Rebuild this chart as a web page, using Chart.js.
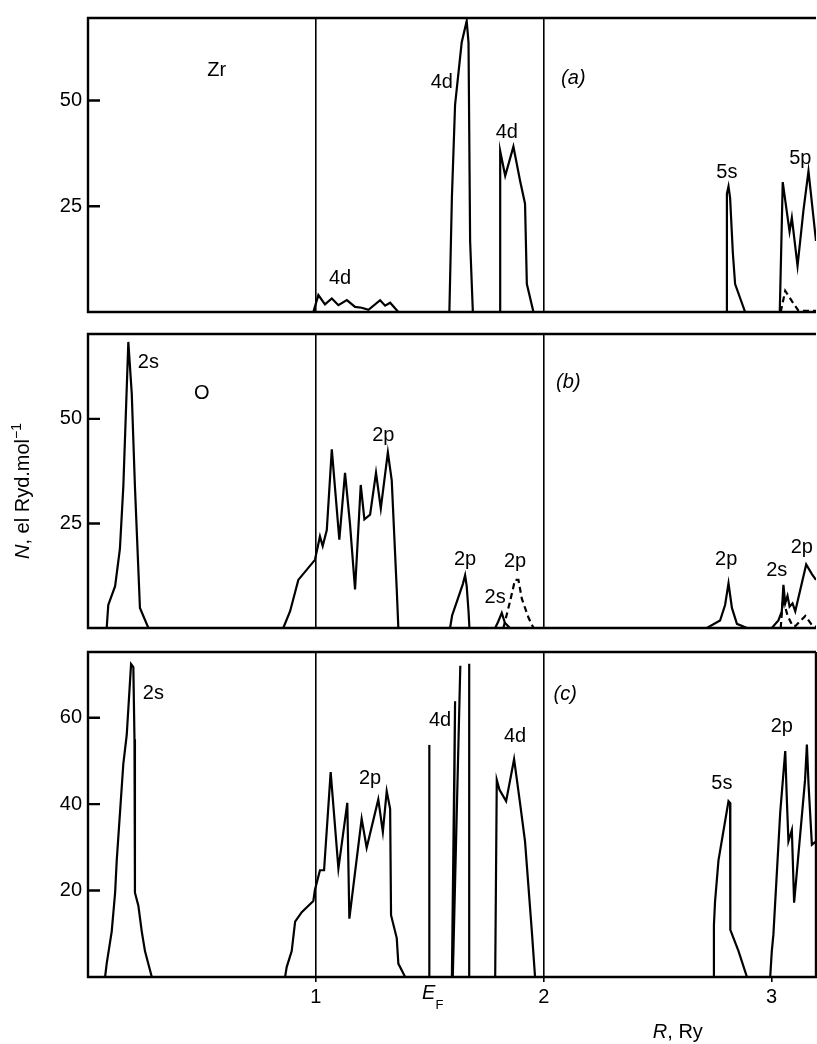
<!DOCTYPE html>
<html>
<head>
<meta charset="utf-8">
<script src="https://cdn.jsdelivr.net/npm/chart.js@4.4.1/dist/chart.umd.min.js"></script>
<style>
  html, body { margin: 0; padding: 0; background: #fff; }
  #wrap { position: relative; width: 817px; height: 1044px; overflow: hidden; }
  canvas { position: absolute; left: 0; }
</style>
</head>
<body>
<div id="wrap">
  <canvas id="pa" width="817" height="330" style="top:0px"></canvas>
  <canvas id="pb" width="817" height="330" style="top:316px"></canvas>
  <canvas id="pc" width="817" height="410" style="top:634px"></canvas>
</div>
<script>
// ---------- DATA ----------
const R_MAX = 3.195;
const xTicksTop = [1, 2];
const xTicksBottom = [1, 2, 3];
const aTicks = [25, 50];
const bTicks = [25, 50];
const cTicks = [20, 40, 60];

// (a) Zr
const a4dLowR = [0.989, 1.011, 1.040, 1.070, 1.099, 1.136, 1.172, 1.201, 1.231, 1.282, 1.304, 1.326, 1.362];
const a4dLowN = [0, 4.0, 1.8, 3.2, 1.6, 2.8, 1.2, 1.0, 0.5, 2.8, 1.5, 2.2, 0];
const a4dBigR = [1.586, 1.597, 1.611, 1.640, 1.662, 1.670, 1.677, 1.689];
const a4dBigN = [0, 27, 49, 63.7, 68.8, 63.7, 16.8, 0];
const a4dHighR = [1.809, 1.809, 1.831, 1.867, 1.896, 1.918, 1.926, 1.955];
const a4dHighN = [0, 38, 32.2, 39.1, 31.1, 25.6, 6.6, 0];
const a5sR = [2.801, 2.804, 2.811, 2.818, 2.830, 2.840, 2.884];
const a5sN = [0, 28, 29.7, 27, 14, 6.6, 0];
const a5pR = [3.036, 3.049, 3.079, 3.089, 3.114, 3.140, 3.162, 3.195];
const a5pN = [0, 30.7, 19, 22.3, 10.9, 24.1, 33.3, 16.8];
const a5pDashR = [3.04, 3.06, 3.09, 3.118, 3.195];
const a5pDashN = [0, 5, 2.5, 0.3, 0.3];

// (b) O
const b2sR = [0.082, 0.089, 0.119, 0.140, 0.155, 0.177, 0.192, 0.206, 0.228, 0.265];
const b2sN = [0, 5.5, 10, 18.9, 33.8, 68.4, 56.1, 33.8, 4.8, 0];
const b2pR = [0.857, 0.887, 0.923, 0.996, 1.018, 1.030, 1.048, 1.070, 1.103, 1.128, 1.150, 1.172, 1.197, 1.213, 1.238, 1.264, 1.285, 1.316, 1.333, 1.355, 1.362];
const b2pN = [0, 4, 11.5, 16.3, 21.9, 19.6, 23.4, 42.7, 21.1, 37.1, 24.8, 9.2, 34.2, 26, 27.1, 37.1, 28.6, 42, 35.3, 9.2, 0];
const b2pSmallR = [1.589, 1.598, 1.620, 1.645, 1.655, 1.662, 1.670, 1.674];
const b2pSmallN = [0, 3, 6.5, 10.5, 12.6, 10, 4, 0];
const b2sSmallR = [1.787, 1.800, 1.816, 1.830, 1.852];
const b2sSmallN = [0, 1.5, 3.6, 1.2, 0];
const b2pDashR = [1.823, 1.852, 1.874, 1.889, 1.904, 1.933, 1.955];
const b2pDashN = [0, 6.3, 11.5, 11.5, 7, 2.5, 0];
const b2pRightR = [2.716, 2.774, 2.796, 2.811, 2.826, 2.848, 2.892];
const b2pRightN = [0, 1.8, 5.5, 10.7, 4.8, 1, 0];
const b2s2pR = [3.001, 3.030, 3.045, 3.052, 3.060, 3.070, 3.079, 3.092, 3.104, 3.152, 3.177, 3.195];
const b2s2pN = [0, 1.8, 4, 10.3, 5.9, 7.7, 5.1, 5.9, 4, 15.2, 12.9, 11.5];
const bDashRightR = [3.04, 3.05, 3.07, 3.092, 3.105, 3.148, 3.18, 3.195];
const bDashRightN = [0, 7, 3, 0.5, 0.5, 2.9, 0.5, 0.3];

// (c) Zr + O
const c2sR = [0.075, 0.082, 0.104, 0.119, 0.126, 0.155, 0.170, 0.189, 0.199, 0.204, 0.206, 0.221, 0.236, 0.250, 0.280];
const c2sN = [0, 3.1, 10.5, 19.5, 26.9, 49.3, 56, 72.4, 71.7, 55, 19.5, 16.5, 10.5, 6, 0];
const c2pR = [0.865, 0.872, 0.894, 0.909, 0.938, 0.989, 0.996, 1.018, 1.036, 1.065, 1.099, 1.138, 1.147, 1.201, 1.223, 1.274, 1.294, 1.311, 1.326, 1.330, 1.355, 1.362, 1.392];
const c2pN = [0, 2.3, 6, 12.8, 15, 17.6, 20.2, 24.7, 24.7, 47.4, 25.1, 40.3, 13.5, 36.6, 29.9, 41.1, 33.6, 43, 38.9, 14.3, 9, 3.1, 0];
const cFermiR = [1.498, 1.498];
const cFermiN = [0, 53.7];
const c4dAR = [1.597, 1.611, 1.601, 1.634];
const c4dAN = [0, 63.8, 0, 72];
const c4dBR = [1.673, 1.673];
const c4dBN = [0, 72.5];
const c4d2R = [1.787, 1.794, 1.806, 1.835, 1.870, 1.896, 1.918, 1.948, 1.962];
const c4d2N = [0, 45.6, 43.3, 40.7, 50.4, 40.3, 31.4, 10.5, 0];
const c5sR = [2.743, 2.747, 2.752, 2.767, 2.811, 2.818, 2.819, 2.855, 2.892];
const c5sN = [0, 12, 17.5, 27, 40.7, 40.3, 10.9, 6, 0];
const c2pRightR = [2.994, 3.001, 3.008, 3.038, 3.045, 3.060, 3.067, 3.074, 3.089, 3.099, 3.147, 3.155, 3.162, 3.177, 3.195];
const c2pRightN = [0, 6, 9.8, 38.1, 42.6, 52.3, 41.1, 31.4, 34, 17.2, 45.6, 53.8, 44.8, 30.6, 31.4];

// annotations (text centre in data units)
const aLabelText = ["Zr", "4d", "4d", "4d", "(a)", "5s", "5p"];
const aLabelR = [0.565, 1.106, 1.553, 1.838, 2.13, 2.804, 3.126];
const aLabelN = [57.1, 8.0, 54.2, 42.4, 55.3, 32.9, 36.2];
const bLabelText = ["2s", "O", "2p", "2p", "2s", "2p", "(b)", "2p", "2s", "2p"];
const bLabelR = [0.265, 0.499, 1.296, 1.655, 1.787, 1.874, 2.108, 2.801, 3.023, 3.133];
const bLabelN = [63.5, 56.1, 46, 16.3, 7.4, 15.9, 58.7, 16.3, 13.7, 19.3];
const cLabelText = ["2s", "2p", "4d", "4d", "(c)", "5s", "2p"];
const cLabelR = [0.287, 1.238, 1.545, 1.874, 2.094, 2.782, 3.045];
const cLabelN = [65.7, 45.9, 59.4, 55.6, 65.3, 44.8, 57.9];

// ---------- HELPERS ----------
const FONT = '"Liberation Sans", Arial, sans-serif';
const FS = 20;

function series(R, N, dashed) {
  return {
    data: R.map((r, i) => ({ x: r, y: N[i] })),
    showLine: true,
    borderColor: "#000",
    borderWidth: 2.2,
    borderDash: dashed ? [6, 4] : [],
    pointRadius: 0,
    tension: 0,
    fill: false
  };
}

const decor = {
  id: "decor",
  afterDatasetsDraw(chart, args, o) {
    const { ctx, chartArea: a, scales: { x, y } } = chart;
    ctx.save();
    ctx.strokeStyle = "#000";
    ctx.lineWidth = 2.4;
    ctx.setLineDash([]);
    ctx.beginPath();
    ctx.moveTo(a.right, a.top);
    ctx.lineTo(a.left, a.top);
    ctx.lineTo(a.left, a.bottom);
    ctx.lineTo(a.right, a.bottom);
    if (o.rightBorder) ctx.lineTo(a.right, a.top);
    y.ticks.forEach(t => {
      const py = y.getPixelForValue(t.value);
      ctx.moveTo(a.left, py);
      ctx.lineTo(a.left + 12, py);
    });
    ctx.stroke();

    ctx.fillStyle = "#000";
    ctx.textAlign = "center";
    ctx.textBaseline = "middle";
    o.text.forEach((s, i) => {
      ctx.font = (s.startsWith("(") ? "italic " : "") + FS + "px " + FONT;
      ctx.fillText(s, x.getPixelForValue(o.r[i]), y.getPixelForValue(o.n[i]));
    });
    if (o.after) o.after(chart);
    ctx.restore();
  }
};

function makePanel(id, datasets, yMax, yTicks, xTicks, bottom, pad, extra) {
  return new Chart(document.getElementById(id), {
    type: "scatter",
    data: { datasets },
    plugins: [decor],
    options: {
      responsive: false,
      animation: false,
      devicePixelRatio: 1,
      layout: { padding: { top: 7, bottom: pad, left: 0, right: 1 } },
      plugins: {
        legend: { display: false },
        tooltip: { enabled: false },
        decor: extra
      },
      scales: {
        x: {
          type: "linear",
          min: 0,
          max: R_MAX,
          afterBuildTicks: s => { s.ticks = xTicks.map(v => ({ value: v })); },
          afterFit: s => { s.height = bottom ? 67 : 0; },
          border: { display: false },
          grid: {
            color: c => (c.tick && c.tick.value < 2.5 ? "#000" : "rgba(0,0,0,0)"),
            tickColor: "#000",
            lineWidth: 1.6,
            drawTicks: bottom,
            tickLength: 5
          },
          ticks: {
            display: bottom,
            padding: 3,
            color: "#000",
            font: { family: FONT, size: FS },
            maxRotation: 0
          }
        },
        y: {
          min: 0,
          max: yMax,
          afterBuildTicks: s => { s.ticks = yTicks.map(v => ({ value: v })); },
          afterFit: s => { s.width = 88; },
          border: { display: false },
          grid: { display: false, drawTicks: false },
          ticks: {
            padding: 6,
            color: "#000",
            font: { family: FONT, size: FS }
          }
        }
      }
    }
  });
}

// ---------- PANELS ----------
makePanel("pa", [
  series(a4dLowR, a4dLowN),
  series(a4dBigR, a4dBigN),
  series(a4dHighR, a4dHighN),
  series(a5sR, a5sN),
  series(a5pR, a5pN),
  series(a5pDashR, a5pDashN, true)
], 69.5, aTicks, xTicksTop, false, 7, { text: aLabelText, r: aLabelR, n: aLabelN });

makePanel("pb", [
  series(b2sR, b2sN),
  series(b2pR, b2pN),
  series(b2pSmallR, b2pSmallN),
  series(b2sSmallR, b2sSmallN),
  series(b2pDashR, b2pDashN, true),
  series(b2pRightR, b2pRightN),
  series(b2s2pR, b2s2pN),
  series(bDashRightR, bDashRightN, true)
], 70.3, bTicks, xTicksTop, false, 8, {
  text: bLabelText, r: bLabelR, n: bLabelN,
  after: chart => {
    // y axis title, rotated
    const { ctx, chartArea: a } = chart;
    const parts = [
      { t: "N", f: "italic 20px " + FONT, dy: 0 },
      { t: ", el Ryd.mol", f: "20px " + FONT, dy: 0 },
      { t: "\u22121", f: "14px " + FONT, dy: -8 }
    ];
    let w = 0;
    parts.forEach(p => { ctx.font = p.f; p.w = ctx.measureText(p.t).width; w += p.w; });
    ctx.save();
    ctx.translate(22, (a.top + a.bottom) / 2 + 10);
    ctx.rotate(-Math.PI / 2);
    ctx.textAlign = "left";
    ctx.textBaseline = "alphabetic";
    let cx = -w / 2;
    parts.forEach(p => { ctx.font = p.f; ctx.fillText(p.t, cx, 7 + p.dy); cx += p.w; });
    ctx.restore();
  }
});

makePanel("pc", [
  series(c2sR, c2sN),
  series(c2pR, c2pN),
  series(cFermiR, cFermiN),
  series(c4dAR, c4dAN),
  series(c4dBR, c4dBN),
  series(c4d2R, c4d2N),
  series(c5sR, c5sN),
  series(c2pRightR, c2pRightN)
], 75.2, cTicks, xTicksBottom, true, 0, {
  text: cLabelText, r: cLabelR, n: cLabelN, rightBorder: true,
  after: chart => {
    const { ctx, chartArea: a, scales: { x } } = chart;
    ctx.textAlign = "left";
    ctx.textBaseline = "alphabetic";
    // Fermi level mark
    let px = x.getPixelForValue(1.466);
    ctx.font = "italic 20px " + FONT;
    ctx.fillText("E", px, a.bottom + 22);
    px += ctx.measureText("E").width;
    ctx.font = "13px " + FONT;
    ctx.fillText("F", px, a.bottom + 32);
    // axis title
    px = x.getPixelForValue(2.479);
    ctx.font = "italic 20px " + FONT;
    ctx.fillText("R", px, a.bottom + 61);
    px += ctx.measureText("R").width;
    ctx.font = "20px " + FONT;
    ctx.fillText(", Ry", px, a.bottom + 61);
  }
});
</script>
</body>
</html>
